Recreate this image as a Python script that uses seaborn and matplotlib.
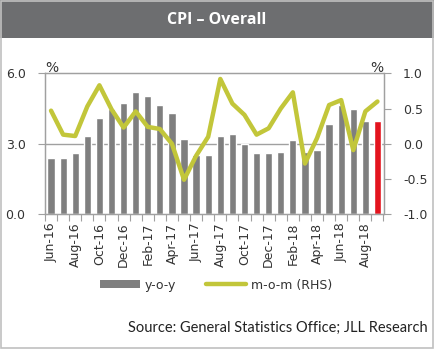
import numpy as np
import pandas as pd
import matplotlib
matplotlib.use("Agg")
import matplotlib.pyplot as plt
import seaborn as sns
from matplotlib.patches import Rectangle, Patch
from matplotlib.lines import Line2D

months = ["Jun-16", "Jul-16", "Aug-16", "Sep-16", "Oct-16", "Nov-16", "Dec-16",
          "Jan-17", "Feb-17", "Mar-17", "Apr-17", "May-17", "Jun-17", "Jul-17",
          "Aug-17", "Sep-17", "Oct-17", "Nov-17", "Dec-17", "Jan-18", "Feb-18",
          "Mar-18", "Apr-18", "May-18", "Jun-18", "Jul-18", "Aug-18", "Sep-18"]
yoy = [2.40, 2.39, 2.60, 3.34, 4.09, 4.50, 4.74, 5.22, 5.02, 4.65, 4.30, 3.19,
       2.54, 2.52, 3.35, 3.40, 2.98, 2.62, 2.60, 2.65, 3.15, 2.66, 2.75, 3.86,
       4.67, 4.46, 3.98, 3.98]
mom = [0.47, 0.13, 0.11, 0.53, 0.83, 0.49, 0.23, 0.46, 0.24, 0.21, 0.00, -0.51,
       -0.17, 0.10, 0.92, 0.57, 0.41, 0.13, 0.22, 0.50, 0.73, -0.28, 0.08, 0.55,
       0.62, -0.09, 0.46, 0.60]
left_ticks = [0.0, 3.0, 6.0]
right_ticks = [-1.0, -0.5, 0.0, 0.5, 1.0]
title = "CPI \u2013 Overall"
source = "Source: General Statistics Office; JLL Research"

GREY = "#7f7f7f"
RED = "#e3141e"
OLIVE = "#c2c63a"
AXC = "#a0a0a0"

sns.set_theme(style="white")
plt.rcParams["font.family"] = ["DejaVu Sans"]

df = pd.DataFrame({"month": months, "yoy": yoy, "mom": mom})
df["pos"] = np.arange(len(df))
bar_colors = [GREY] * (len(df) - 1) + [RED]

fig = plt.figure(figsize=(4.34, 3.49), dpi=100)
fig.patch.set_facecolor("white")
ax = fig.add_axes([45 / 434, 1 - 214.3 / 349, (383.5 - 45) / 434, (214.3 - 73.3) / 349])

sns.barplot(data=df, x="month", y="yoy", hue="month", palette=bar_colors,
            legend=False, width=0.6, saturation=1, ax=ax)
ax.set_xlim(-0.5, len(df) - 0.5)
ax.set_ylim(0, 6)
ax.set_yticks(left_ticks)
ax.set_yticklabels([f"{v:.1f}" for v in left_ticks])
ax.axhline(3.0, color=AXC, lw=1.0, zorder=0)
ax.set_xlabel("")
ax.set_ylabel("")

ax.set_xticks(np.arange(0, len(df), 2))
ax.set_xticklabels(months[::2], rotation=90)
ax.set_xticks(np.arange(-0.5, len(df), 1), minor=True)
ax.tick_params(axis="x", which="major", length=0, pad=6, labelsize=9, colors="#333333")
ax.tick_params(axis="x", which="minor", length=5, width=0.8, color=AXC, direction="out")
ax.tick_params(axis="y", length=5, width=0.8, color=AXC, direction="out", pad=9,
               labelsize=9, labelcolor="#333333")
ax.tick_params(axis="x", which="both", bottom=True)

ax2 = ax.twinx()
sns.lineplot(data=df, x="pos", y="mom", color=OLIVE, lw=3.2, ax=ax2, zorder=5)
ax2.set_ylim(-1, 1)
ax2.set_yticks(right_ticks)
ax2.set_yticklabels([f"{v:.1f}" for v in right_ticks])
ax2.set_xlim(-0.5, len(df) - 0.5)
ax2.set_ylabel("")
ax2.set_xlabel("")
ax2.tick_params(axis="y", length=5, width=0.8, color=AXC, direction="out", pad=9,
                labelsize=9, labelcolor="#333333")

for a in (ax, ax2):
    for s in a.spines.values():
        s.set_color(AXC)
        s.set_linewidth(0.9)

fig.text(52 / 434, 1 - 68 / 349, "%", ha="center", va="center", fontsize=10, color="#333333")
fig.text(377 / 434, 1 - 68 / 349, "%", ha="center", va="center", fontsize=10, color="#333333")

# title banner
fig.add_artist(Rectangle((0, 1 - 38 / 349), 1, 38 / 349, transform=fig.transFigure,
                         facecolor="#6d6e70", edgecolor="none", zorder=0))
fig.text(0.5, 1 - 20 / 349, title, ha="center", va="center", fontsize=11.5,
         fontweight="bold", color="white", family=["Open Sans", "DejaVu Sans"])
# outer border
fig.add_artist(Rectangle((1 / 434, 1 / 349), 432 / 434, 347 / 349, transform=fig.transFigure,
                         facecolor="none", edgecolor="#c0c0c0", lw=1.2, zorder=10))

handles = [Patch(facecolor=GREY, edgecolor="none"), Line2D([0], [0], color=OLIVE, lw=3.2)]
fig.legend(handles, ["y-o-y", "m-o-m (RHS)"], loc="center", ncol=2,
           bbox_to_anchor=(216 / 434, 1 - 285 / 349), frameon=False, fontsize=9,
           handlelength=3.2, handleheight=0.6, handletextpad=0.4, columnspacing=2.4,
           labelcolor="#333333")

fig.text(428 / 434, 1 - 328 / 349, source, ha="right", va="center", fontsize=10.5,
         color="#222222", family=["Lato", "DejaVu Sans"])

fig.savefig("out.png", dpi=100, facecolor="white")
